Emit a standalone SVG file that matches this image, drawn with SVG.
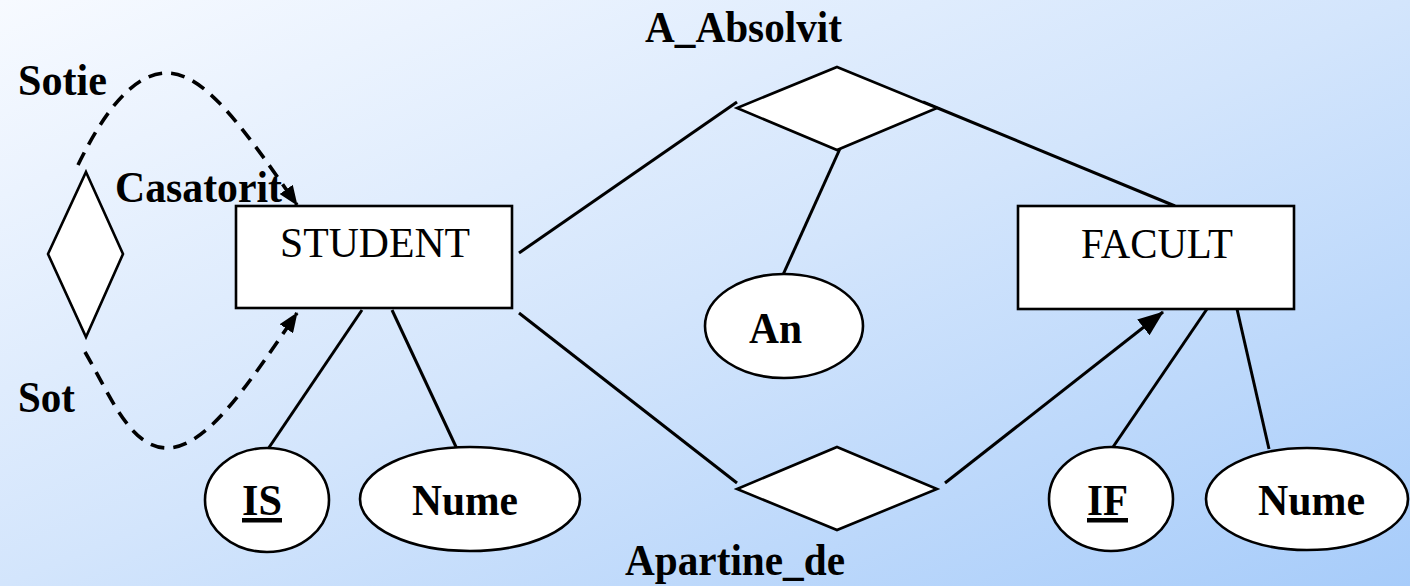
<svg xmlns="http://www.w3.org/2000/svg" width="1410" height="586" viewBox="0 0 1410 586">
<defs>
<linearGradient id="bg" x1="0" y1="0" x2="1" y2="1">
<stop offset="0" stop-color="#f7faff"/>
<stop offset="0.5" stop-color="#d3e5fc"/>
<stop offset="1" stop-color="#a7ccfa"/>
</linearGradient>
<marker id="arr" markerUnits="userSpaceOnUse" markerWidth="20" markerHeight="16" refX="19" refY="8" orient="auto">
<path d="M0,0 L20,8 L0,16 z" fill="#000"/>
</marker>
<marker id="arrBig" markerUnits="userSpaceOnUse" markerWidth="26" markerHeight="20" refX="25" refY="10" orient="auto">
<path d="M0,0 L26,10 L0,20 z" fill="#000"/>
</marker>
</defs>
<style>
.shape{fill:#fff;stroke:#000;stroke-width:2.6}
.ln{stroke:#000;stroke-width:3;fill:none}
.dash{stroke:#000;stroke-width:3.6;fill:none;stroke-dasharray:14 9}
.b{font-family:"Liberation Serif","Times New Roman",serif;font-weight:bold;font-size:45px;fill:#000}
.r{font-family:"Liberation Serif","Times New Roman",serif;font-weight:normal;font-size:42px;fill:#000}
</style>
<rect width="1410" height="586" fill="url(#bg)"/>

<g id="connectors">
<path class="dash" d="M78,165 C100,120 130,73 167,73 C205,73 245,130 297,205" marker-end="url(#arr)"/>
<path class="dash" d="M85,352 C110,395 130,448 167,448 C205,448 245,390 297,313" marker-end="url(#arr)"/>
<line class="ln" x1="519" y1="253" x2="737" y2="102"/>
<line class="ln" x1="923" y1="102" x2="1175" y2="206"/>
<line class="ln" x1="843" y1="142" x2="782" y2="277"/>
<line class="ln" x1="519" y1="313" x2="737" y2="483"/>
<line class="ln" x1="945" y1="483" x2="1163" y2="312" stroke-width="5" marker-end="url(#arrBig)"/>
<line class="ln" x1="362" y1="310" x2="268" y2="449"/>
<line class="ln" x1="392" y1="310" x2="457" y2="449"/>
<line class="ln" x1="1207" y1="309" x2="1113" y2="447"/>
<line class="ln" x1="1237" y1="309" x2="1269" y2="449"/>
</g>

<g id="casatorit">
<polygon class="shape" stroke-width="2.2" points="86,172 123,254 86,337 48,254"/>
<text class="b" x="115" y="202" textLength="167" lengthAdjust="spacingAndGlyphs">Casatorit</text>
<text class="b" x="18" y="95" textLength="89" lengthAdjust="spacingAndGlyphs">Sotie</text>
<text class="b" x="18" y="412" textLength="57" lengthAdjust="spacingAndGlyphs">Sot</text>
</g>

<g id="student">
<rect class="shape" x="236" y="206" width="276" height="102"/>
<text class="r" x="280" y="257" textLength="190" lengthAdjust="spacingAndGlyphs">STUDENT</text>
</g>

<g id="facult">
<rect class="shape" x="1018" y="206" width="276" height="103"/>
<text class="r" x="1081" y="258" textLength="152" lengthAdjust="spacingAndGlyphs">FACULT</text>
</g>

<g id="a_absolvit">
<polygon class="shape" points="837,67 937,108 837,150 737,108"/>
<text class="b" x="645" y="42" textLength="197" lengthAdjust="spacingAndGlyphs">A_Absolvit</text>
</g>

<g id="apartine_de">
<polygon class="shape" points="837,447 937,489 837,530 737,489"/>
<text class="b" x="625" y="575" textLength="220" lengthAdjust="spacingAndGlyphs">Apartine_de</text>
</g>

<g id="an">
<ellipse class="shape" cx="784" cy="326" rx="79" ry="52"/>
<text class="b" x="749" y="343" textLength="53" lengthAdjust="spacingAndGlyphs">An</text>
</g>

<g id="is">
<ellipse class="shape" cx="267" cy="500" rx="62" ry="52"/>
<text class="b" x="242" y="515" textLength="40" lengthAdjust="spacingAndGlyphs" text-decoration="underline">IS</text>
</g>

<g id="student_nume">
<ellipse class="shape" cx="470" cy="499" rx="110" ry="52"/>
<text class="b" x="412" y="515" textLength="106" lengthAdjust="spacingAndGlyphs">Nume</text>
</g>

<g id="if">
<ellipse class="shape" cx="1111" cy="499" rx="62" ry="52"/>
<text class="b" x="1087" y="515" textLength="41" lengthAdjust="spacingAndGlyphs" text-decoration="underline">IF</text>
</g>

<g id="facult_nume">
<ellipse class="shape" cx="1307" cy="499" rx="101" ry="51"/>
<text class="b" x="1258" y="515" textLength="107" lengthAdjust="spacingAndGlyphs">Nume</text>
</g>
</svg>
